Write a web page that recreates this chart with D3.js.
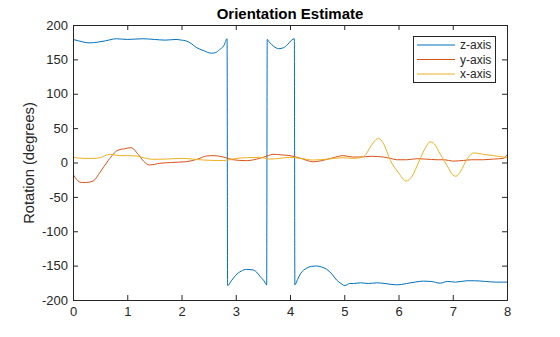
<!DOCTYPE html>
<html><head><meta charset="utf-8">
<script src="https://cdn.jsdelivr.net/npm/d3@7"></script>
<style>body{margin:0;background:#fff}svg{display:block}text{font-family:"Liberation Sans",Arial,sans-serif}</style>
</head><body>
<script>
const xTicks = [0,1,2,3,4,5,6,7,8];
const yTicks = [-200,-150,-100,-50,0,50,100,150,200];
const seriesNames = ["z-axis","y-axis","x-axis"];
const seriesColors = ["#0072BD","#D95319","#EDB120"];

const zT = [0,0.1,0.2,0.31,0.45,0.6,0.8,1.0,1.29,1.5,1.7,1.9,2.0,2.08,2.18,2.27,2.4,2.55,2.63,2.7,2.78,2.84,2.85,2.92,3.0,3.1,3.2,3.3,3.38,3.45,3.52,3.57,3.58,3.62,3.7,3.79,3.88,3.96,4.03,4.08,4.09,4.14,4.2,4.3,4.4,4.49,4.58,4.67,4.77,4.86,4.94,5.01,5.1,5.17,5.3,5.45,5.6,5.75,5.97,6.15,6.3,6.46,6.6,6.77,6.9,7.05,7.26,7.4,7.6,7.8,7.93,8.0];
const zV = [179,177,175,174,175,177,180,179,180,179,178,179,178,177,173,167.5,163,159,160,164,170,180,-179,-172,-164,-158,-155.5,-156,-159,-166,-172,-178,179,175,169,165.5,167,172,178,180,-178,-170,-161,-154,-151,-150.5,-152,-155,-162,-171,-176,-179,-176,-176,-175,-176,-175,-176,-178,-176,-174,-172.5,-173,-175.5,-173,-174,-172,-172,-173,-174,-174,-174];

const yT = [0,0.07,0.15,0.25,0.37,0.5,0.65,0.83,0.95,1.07,1.2,1.3,1.41,1.6,1.8,2.09,2.3,2.46,2.6,2.77,2.95,3.2,3.44,3.6,3.69,3.85,4.0,4.2,4.43,4.6,4.8,4.98,5.15,5.29,5.5,5.72,5.85,5.97,6.15,6.34,6.5,6.71,6.85,7.0,7.2,7.35,7.55,7.75,7.93,8.0];
const yV = [-17,-25,-29,-29,-27,-14,3,18,20,21.5,12,2,-3.6,-1.2,0,1.2,5,9.4,10,8,4,2.7,6,10,12,11,10,6,1,3,7,10,8,8,9,8,6,4,4,5.5,5,4,4,2,3,4,4,5,6,11];

const xT = [0,0.2,0.37,0.5,0.68,0.85,1.0,1.17,1.3,1.47,1.7,2.03,2.2,2.4,2.6,2.77,3.01,3.2,3.44,3.63,3.8,4.0,4.2,4.43,4.7,4.98,5.15,5.3,5.4,5.5,5.63,5.72,5.85,6.0,6.14,6.25,6.38,6.5,6.58,6.66,6.77,6.9,7.0,7.06,7.15,7.25,7.39,7.55,7.75,7.93,8.0];
const xV = [7.5,6,6,7,12,10,10,9.5,7,4.6,5,6,5,3.6,3,2.9,6,7,7.5,5,6,7.5,6,3.6,5,7,6,7,12,25,35,28,3,-15,-27,-20,2,22,30,27,12,-5,-18,-20,-12,3,14,12,10,8,7];

const W=560,H=337;
const m={l:73,r:507,t:25,b:300};
const svg=d3.select("body").append("svg").attr("width",W).attr("height",H);
const x=d3.scaleLinear().domain([0,8]).range([m.l,m.r]);
const y=d3.scaleLinear().domain([-200,200]).range([m.b,m.t]);

svg.append("clipPath").attr("id","c").append("rect").attr("x",m.l).attr("y",m.t).attr("width",m.r-m.l).attr("height",m.b-m.t);

const g=svg.append("g").attr("clip-path","url(#c)");
const line=d3.line().x(d=>x(d[0])).y(d=>y(d[1])).curve(d3.curveMonotoneX);
const data=[d3.zip(zT,zV),d3.zip(yT,yV),d3.zip(xT,xV)];
data.forEach((d,i)=>{
  g.append("path").datum(d).attr("d",line).attr("fill","none").attr("stroke",seriesColors[i]).attr("stroke-width",1);
});

const axCol="#262626";
const fs="13px";
const fmt=d=>String(d);
const ax=svg.append("g");
ax.append("g").attr("transform",`translate(0,${m.b})`).call(d3.axisBottom(x).tickValues(xTicks).tickSize(-5).tickPadding(7).tickFormat(fmt));
ax.append("g").attr("transform",`translate(0,${m.t})`).call(d3.axisTop(x).tickValues(xTicks).tickSize(-5).tickFormat(""));
ax.append("g").attr("transform",`translate(${m.l},0)`).call(d3.axisLeft(y).tickValues(yTicks).tickSize(-5).tickPadding(5).tickFormat(fmt));
ax.append("g").attr("transform",`translate(${m.r},0)`).call(d3.axisRight(y).tickValues(yTicks).tickSize(-5).tickFormat(""));
ax.selectAll(".domain").attr("stroke",axCol).attr("stroke-width",1);
ax.selectAll(".tick line").attr("stroke",axCol);
ax.selectAll(".tick text").attr("fill",axCol).style("font-size",fs).style("font-family","'Liberation Sans',Arial,sans-serif");

svg.append("text").attr("x",(m.l+m.r)/2).attr("y",19).attr("text-anchor","middle").style("font-weight","bold").style("font-size","15px").attr("fill","#000").text("Orientation Estimate");
svg.append("text").attr("transform",`translate(34,163) rotate(-90)`).attr("text-anchor","middle").style("font-size","14.7px").attr("fill",axCol).text("Rotation (degrees)");

const lg=svg.append("g");
lg.append("rect").attr("x",413.5).attr("y",36.5).attr("width",82).attr("height",46).attr("fill","#fff").attr("stroke",axCol).attr("stroke-width",1);
seriesNames.forEach((n,i)=>{
  const yy=45+i*14.5;
  lg.append("line").attr("x1",417).attr("x2",455).attr("y1",yy).attr("y2",yy).attr("stroke",seriesColors[i]).attr("stroke-width",1);
  lg.append("text").attr("x",460).attr("y",yy+4.2).style("font-size","12px").attr("fill",axCol).text(n);
});
</script>
</body></html>
